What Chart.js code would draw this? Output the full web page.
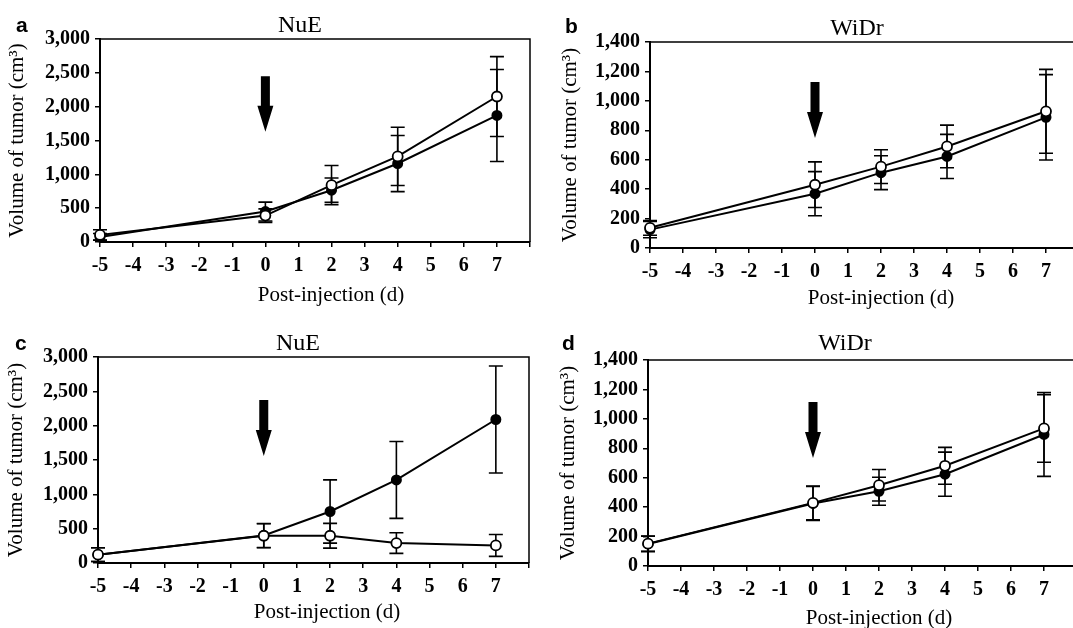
<!DOCTYPE html>
<html>
<head>
<meta charset="utf-8">
<script src="https://cdn.jsdelivr.net/npm/chart.js@4.4.0/dist/chart.umd.min.js"></script>
<style>
  body { margin: 0; background: #fff; width: 1073px; height: 628px; overflow: hidden; position: relative; }
  canvas { position: absolute; }
</style>
</head>
<body>
<canvas id="chartA" width="545" height="312" style="left:0;top:0"></canvas>
<canvas id="chartB" width="545" height="312" style="left:545px;top:0"></canvas>
<canvas id="chartC" width="545" height="316" style="left:0;top:312px"></canvas>
<canvas id="chartD" width="545" height="316" style="left:545px;top:312px"></canvas>
<script>
// days after injection
var days = [-5, 0, 2, 4, 7];
var xMin = -5, xMax = 8;

// y axis ranges
var nueMax = 3000, nueStep = 500;
var widrMax = 1400, widrStep = 200;

// panel a - NuE
var aOpen = [105, 390, 840, 1265, 2150];
var aOpenErr = [75, 100, 290, 430, 590];
var aFilled = [75, 450, 765, 1160, 1870];
var aFilledErr = [50, 140, 180, 415, 680];
var aArrow = [2450, 1630];

// panel b - WiDr
var bOpen = [137, 430, 553, 690, 929];
var bOpenErr = [50, 155, 115, 145, 285];
var bFilled = [125, 369, 512, 622, 888];
var bFilledErr = [55, 150, 115, 150, 290];
var bArrow = [1128, 748];

// panel c - NuE
var cOpen = [121, 397, 397, 290, 256];
var cOpenErr = [100, 175, 180, 150, 160];
var cFilled = [121, 400, 750, 1210, 2090];
var cFilledErr = [100, 175, 460, 560, 780];
var cArrow = [2374, 1558];

// panel d - WiDr
var dOpen = [152, 429, 549, 681, 935];
var dOpenErr = [52, 115, 107, 125, 230];
var dFilled = [150, 425, 508, 624, 894];
var dFilledErr = [52, 115, 95, 150, 285];
var dArrow = [1115, 734];

var serif = '"Liberation Serif", "Times New Roman", serif';
Chart.defaults.font.family = serif;
Chart.defaults.color = '#000';

function toPoints(values) {
    return days.map(function (d, i) { return { x: d, y: values[i] }; });
}

// error bars, box border, arrow and panel texts
var panelExtras = {
    id: 'panelExtras',
    beforeDatasetsDraw: function (chart, args, opts) {
        var ctx = chart.ctx;
        var area = chart.chartArea;
        var yScale = chart.scales.y;
        ctx.save();
        ctx.strokeStyle = '#000';
        ctx.lineWidth = 1.5;
        ctx.beginPath();
        ctx.moveTo(area.left, area.top);
        ctx.lineTo(area.right, area.top);
        ctx.lineTo(area.right, area.bottom);
        ctx.stroke();

        ctx.lineWidth = 1.6;
        opts.errors.forEach(function (errs, di) {
            var meta = chart.getDatasetMeta(di);
            var vals = chart.data.datasets[di].data;
            meta.data.forEach(function (pt, i) {
                var hi = yScale.getPixelForValue(vals[i].y + errs[i]);
                var lo = yScale.getPixelForValue(Math.max(vals[i].y - errs[i], 0));
                ctx.beginPath();
                ctx.moveTo(pt.x, hi);
                ctx.lineTo(pt.x, lo);
                ctx.moveTo(pt.x - 7, hi);
                ctx.lineTo(pt.x + 7, hi);
                ctx.moveTo(pt.x - 7, lo);
                ctx.lineTo(pt.x + 7, lo);
                ctx.stroke();
            });
        });
        ctx.restore();
    },
    afterDraw: function (chart, args, opts) {
        var ctx = chart.ctx;
        var area = chart.chartArea;
        var ax = chart.scales.x.getPixelForValue(0);
        var top = chart.scales.y.getPixelForValue(opts.arrow[0]);
        var tip = chart.scales.y.getPixelForValue(opts.arrow[1]);
        ctx.save();
        ctx.fillStyle = '#000';
        ctx.beginPath();
        ctx.moveTo(ax - 4.5, top);
        ctx.lineTo(ax + 4.5, top);
        ctx.lineTo(ax + 4.5, tip - 26);
        ctx.lineTo(ax + 8, tip - 26);
        ctx.lineTo(ax, tip);
        ctx.lineTo(ax - 8, tip - 26);
        ctx.lineTo(ax - 4.5, tip - 26);
        ctx.closePath();
        ctx.fill();

        ctx.font = 'bold 21px "Liberation Sans", Arial, sans-serif';
        ctx.textAlign = 'left';
        ctx.textBaseline = 'alphabetic';
        ctx.fillText(opts.letter, opts.letterX, opts.letterY);

        ctx.font = '24px ' + serif;
        ctx.textAlign = 'center';
        ctx.fillText(opts.title, opts.titleX, opts.titleY);

        ctx.font = '21px ' + serif;
        ctx.textBaseline = 'middle';
        ctx.fillText('Post-injection (d)', opts.xTitleX, opts.xTitleY);
        ctx.restore();
    }
};

function makePanel(id, p) {
    var canvas = document.getElementById(id);
    var W = canvas.width, H = canvas.height;
    return new Chart(canvas, {
        type: 'line',
        data: {
            datasets: [{
                label: 'open',
                data: toPoints(p.open),
                borderColor: '#000',
                borderWidth: 2,
                pointRadius: 5,
                pointBackgroundColor: '#fff',
                pointBorderColor: '#000',
                pointBorderWidth: 1.8,
                tension: 0,
                clip: false,
                order: 0
            }, {
                label: 'filled',
                data: toPoints(p.filled),
                borderColor: '#000',
                borderWidth: 2,
                pointRadius: 4.5,
                pointBackgroundColor: '#000',
                pointBorderColor: '#000',
                tension: 0,
                clip: false,
                order: 1
            }]
        },
        options: {
            responsive: false,
            animation: false,
            events: [],
            layout: {
                padding: { left: 0, top: p.area[1], right: W - p.area[2], bottom: 0 }
            },
            scales: {
                x: {
                    type: 'linear',
                    min: xMin,
                    max: xMax,
                    afterFit: function (axis) { axis.height = H - p.area[3]; },
                    border: { display: true, color: '#000', width: 2 },
                    grid: { drawOnChartArea: false, color: '#000', tickLength: 5, lineWidth: 1.5 },
                    ticks: {
                        stepSize: 1,
                        padding: 7,
                        font: { size: 20, weight: 'bold' },
                        callback: function (v) { return v === xMax ? '' : String(v); }
                    }
                },
                y: {
                    min: 0,
                    max: p.yMax,
                    afterFit: function (axis) { axis.width = p.area[0]; },
                    border: { display: true, color: '#000', width: 2 },
                    grid: { drawOnChartArea: false, color: '#000', tickLength: 5, lineWidth: 1.5 },
                    ticks: {
                        stepSize: p.yStep,
                        padding: 5,
                        font: { size: 20, weight: 'bold' },
                        callback: function (v) { return v.toLocaleString('en-US'); }
                    },
                    title: {
                        display: true,
                        text: 'Volume of tumor (cm\u00B3)',
                        font: { size: 21 },
                        padding: { top: p.yTitlePad, bottom: 0 }
                    }
                }
            },
            plugins: {
                legend: { display: false },
                tooltip: { enabled: false },
                panelExtras: {
                    errors: [p.openErr, p.filledErr],
                    arrow: p.arrow,
                    letter: p.letter, letterX: p.letterPos[0], letterY: p.letterPos[1],
                    title: p.title, titleX: p.titlePos[0], titleY: p.titlePos[1],
                    xTitleX: p.xTitlePos[0], xTitleY: p.xTitlePos[1]
                }
            }
        },
        plugins: [panelExtras]
    });
}

makePanel('chartA', {
    open: aOpen, openErr: aOpenErr, filled: aFilled, filledErr: aFilledErr, arrow: aArrow,
    yMax: nueMax, yStep: nueStep, area: [100, 39, 530, 242], yTitlePad: 5,
    letter: 'a', letterPos: [16, 32], title: 'NuE', titlePos: [300, 32], xTitlePos: [331, 295]
});
makePanel('chartB', {
    open: bOpen, openErr: bOpenErr, filled: bFilled, filledErr: bFilledErr, arrow: bArrow,
    yMax: widrMax, yStep: widrStep, area: [105, 42, 534, 248], yTitlePad: 13,
    letter: 'b', letterPos: [20, 33], title: 'WiDr', titlePos: [312, 35], xTitlePos: [336, 298]
});
makePanel('chartC', {
    open: cOpen, openErr: cOpenErr, filled: cFilled, filledErr: cFilledErr, arrow: cArrow,
    yMax: nueMax, yStep: nueStep, area: [98, 45, 529, 251], yTitlePad: 4,
    letter: 'c', letterPos: [15, 38], title: 'NuE', titlePos: [298, 38], xTitlePos: [327, 300]
});
makePanel('chartD', {
    open: dOpen, openErr: dOpenErr, filled: dFilled, filledErr: dFilledErr, arrow: dArrow,
    yMax: widrMax, yStep: widrStep, area: [103, 48, 532, 254], yTitlePad: 11,
    letter: 'd', letterPos: [17, 38], title: 'WiDr', titlePos: [300, 38], xTitlePos: [334, 306]
});
</script>
</body>
</html>
